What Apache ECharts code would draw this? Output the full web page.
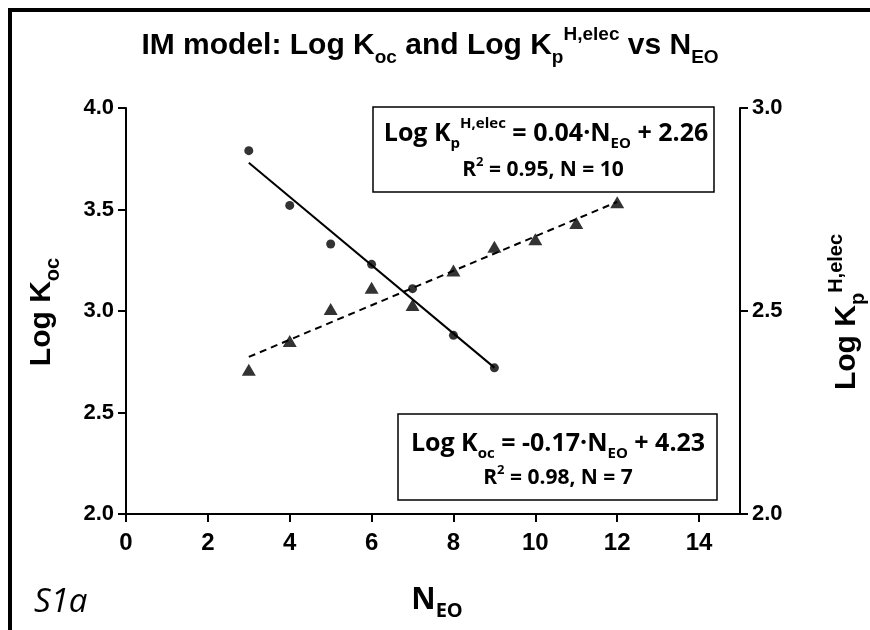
<!DOCTYPE html>
<html><head><meta charset="utf-8">
<script src="https://cdn.jsdelivr.net/npm/echarts@6/dist/echarts.min.js"></script>
<style>html,body{margin:0;padding:0;background:#fff}#c{width:870px;height:630px}</style>
</head><body><div id="c"></div>
<script>
// ---- data ----
const nEOKoc = [3, 4, 5, 6, 7, 8, 9];
const logKoc = [3.79, 3.52, 3.33, 3.23, 3.11, 2.88, 2.72];
const nEOKp = [3, 4, 5, 6, 7, 8, 9, 10, 11, 12];
const logKp = [2.355, 2.426, 2.505, 2.557, 2.515, 2.60, 2.658, 2.677, 2.717, 2.768];
const xTicks = [0, 2, 4, 6, 8, 10, 12, 14];
const kocTicks = [2.0, 2.5, 3.0, 3.5, 4.0];
const kpTicks = [2.0, 2.5, 3.0];

function linfit(xs, ys) {
  const n = xs.length;
  const mx = xs.reduce((a, b) => a + b, 0) / n;
  const my = ys.reduce((a, b) => a + b, 0) / n;
  let sxy = 0, sxx = 0;
  for (let i = 0; i < n; i++) { sxy += (xs[i] - mx) * (ys[i] - my); sxx += (xs[i] - mx) ** 2; }
  const b = sxy / sxx, a = my - b * mx;
  const x0 = Math.min(...xs), x1 = Math.max(...xs);
  return [[x0, a + b * x0], [x1, a + b * x1]];
}

const ARIAL = "'Liberation Sans Narrow','Liberation Sans',Arial,sans-serif";
const ARIALW = "'Liberation Sans',Arial,sans-serif";
const CAL = "'Open Sans',Lato,sans-serif";

const chart = echarts.init(document.getElementById('c'), null, { renderer: 'canvas' });

const axLine = { show: true, lineStyle: { color: '#000', width: 2 } };
const axTick = { show: true, length: 8, lineStyle: { color: '#000', width: 2 } };

function richTitle(size, subSize, fam) {
  return {
    m: { fontSize: size, fontWeight: 'bold', fontFamily: fam, color: '#000', lineHeight: Math.round(size * 1.4) },
    s: { fontSize: subSize, fontWeight: 'bold', fontFamily: fam, color: '#000', lineHeight: subSize, verticalAlign: 'bottom' },
    u: { fontSize: subSize, fontWeight: 'bold', fontFamily: fam, color: '#000', lineHeight: subSize, verticalAlign: 'top' }
  };
}

const option = {
  animation: false,
  backgroundColor: '#fff',
  grid: { left: 126, right: 130, top: 108, bottom: 116, containLabel: false },
  xAxis: {
    type: 'value', min: 0, max: 15, interval: 2,
    axisLine: axLine,
    axisTick: Object.assign({ customValues: xTicks }, axTick),
    axisLabel: { customValues: xTicks, fontSize: 24, fontWeight: 'bold', fontFamily: ARIAL, color: '#000', margin: 17 },
    splitLine: { show: false }
  },
  yAxis: [
    {
      type: 'value', min: 2, max: 4, interval: 0.5, position: 'left',
      axisLine: axLine,
      axisTick: Object.assign({ customValues: kocTicks }, axTick),
      axisLabel: { customValues: kocTicks, fontSize: 22, fontWeight: 'bold', fontFamily: ARIALW, color: '#000', margin: 12,
        formatter: v => v.toFixed(1) },
      splitLine: { show: false }
    },
    {
      type: 'value', min: 2, max: 3, interval: 0.5, position: 'right',
      axisLine: axLine,
      axisTick: Object.assign({ customValues: kpTicks }, axTick),
      axisLabel: { customValues: kpTicks, fontSize: 22, fontWeight: 'bold', fontFamily: ARIALW, color: '#000', margin: 12,
        formatter: v => v.toFixed(1) },
      splitLine: { show: false }
    }
  ],
  series: [
    {
      type: 'line', yAxisIndex: 0, data: linfit(nEOKoc, logKoc), showSymbol: false, symbol: 'none',
      lineStyle: { color: '#000', width: 2 }, z: 2
    },
    {
      type: 'line', yAxisIndex: 1, data: linfit(nEOKp, logKp), showSymbol: false, symbol: 'none',
      lineStyle: { color: '#000', width: 2, type: [7, 5] }, z: 2
    },
    {
      type: 'scatter', yAxisIndex: 0, data: nEOKoc.map((x, i) => [x, logKoc[i]]),
      symbol: 'circle', symbolSize: 9, itemStyle: { color: '#000' }, z: 3
    },
    {
      type: 'scatter', yAxisIndex: 1, data: nEOKp.map((x, i) => [x, logKp[i]]),
      symbol: 'triangle', symbolSize: [14, 12], itemStyle: { color: '#000' }, z: 3
    }
  ],
  graphic: [
    { type: 'line', shape: { x1: 8, y1: 10, x2: 870, y2: 10 }, style: { stroke: '#000', lineWidth: 4 } },
    { type: 'line', shape: { x1: 10, y1: 8, x2: 10, y2: 630 }, style: { stroke: '#000', lineWidth: 4 } },
    { type: 'text', x: 430, y: 46, style: {
        text: '{m|IM model: Log K}{s|oc}{m| and Log K}{s|p}{u|H,elec}{m| vs N}{s|EO}',
        rich: richTitle(30, 19, ARIAL), align: 'center', verticalAlign: 'middle' } },
    { type: 'text', x: 42, y: 312, rotation: Math.PI / 2, style: {
        text: '{m|Log K}{s|oc}', rich: richTitle(30, 20, ARIALW), align: 'center', verticalAlign: 'middle' } },
    { type: 'text', x: 847, y: 312, rotation: Math.PI / 2, style: {
        text: '{m|Log K}{s|p}{u|H,elec}', rich: richTitle(30, 20, ARIALW), align: 'center', verticalAlign: 'middle' } },
    { type: 'text', x: 437, y: 600, style: {
        text: '{m|N}{s|EO}', rich: richTitle(30, 20, CAL), align: 'center', verticalAlign: 'middle' } },
    { type: 'text', x: 34, y: 603, style: {
        text: 'S1a', font: 'italic 33px ' + CAL, fill: '#000', align: 'left', verticalAlign: 'middle' } },
    { type: 'rect', shape: { x: 373, y: 107, width: 341, height: 85 }, style: { fill: '#fff', stroke: '#000', lineWidth: 1.5 }, z: 10 },
    { type: 'text', x: 546, y: 134, z: 11, style: {
        text: '{m|Log K}{s|p}{u|H,elec}{m| = 0.04·N}{s|EO}{m| + 2.26}', rich: richTitle(25, 15, CAL), align: 'center', verticalAlign: 'middle' } },
    { type: 'text', x: 543, y: 170, z: 11, style: {
        text: '{m|R}{u|2}{m| = 0.95, N = 10}', rich: richTitle(21, 13, CAL), align: 'center', verticalAlign: 'middle' } },
    { type: 'rect', shape: { x: 398, y: 414, width: 319, height: 86 }, style: { fill: '#fff', stroke: '#000', lineWidth: 1.5 }, z: 10 },
    { type: 'text', x: 558, y: 444, z: 11, style: {
        text: '{m|Log K}{s|oc}{m| = -0.17·N}{s|EO}{m| + 4.23}', rich: richTitle(25, 15, CAL), align: 'center', verticalAlign: 'middle' } },
    { type: 'text', x: 558, y: 478, z: 11, style: {
        text: '{m|R}{u|2}{m| = 0.98, N = 7}', rich: richTitle(21, 13, CAL), align: 'center', verticalAlign: 'middle' } }
  ]
};
chart.setOption(option);
</script>
</body></html>
